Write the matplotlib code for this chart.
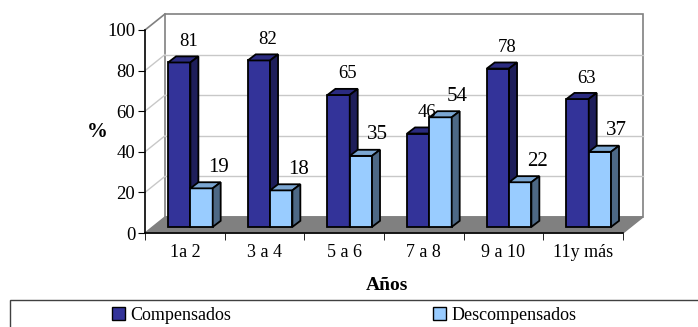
import matplotlib
matplotlib.use('Agg')
from matplotlib import pyplot as plt
from matplotlib.patches import Polygon, Rectangle
from matplotlib.lines import Line2D

# Datos
anios = ["1a 2", "3 a 4", "5 a 6", "7 a 8", "9 a 10", "11y más"]
compensados = [81, 82, 65, 46, 78, 63]
descompensados = [19, 18, 35, 54, 22, 37]
series_names = ["Compensados", "Descompensados"]

plt.rcParams['font.family'] = ['Liberation Serif', 'DejaVu Serif']

W, H = 698, 327
fig = plt.figure(figsize=(W / 100, H / 100), dpi=100)
# front plane of the 3d box: x 145..623 px, y 233..30 px
ax = fig.add_axes([145 / W, (H - 233) / H, 478 / W, 203 / H])
n = len(anios)
ax.set_xlim(0, n)
ax.set_ylim(0, 100)

# depth of the floor/walls and of the bars, in data units
DX, DY = 0.251, 7.9
bdx, bdy = 0.1, 3.0
bw = 0.28
x0 = [i + 0.19 for i in range(n)]

grid_c = '#c8c8c8'
wall_c = '#808080'

# floor
ax.add_patch(Polygon([(0, 0), (n, 0), (n + DX, DY), (DX, DY)], closed=True,
                     facecolor='#808080', edgecolor='#808080', zorder=1, clip_on=False))
# back wall
ax.add_patch(Rectangle((DX, DY), n, 100, facecolor='white', edgecolor=wall_c,
                       lw=1.2, zorder=0.5, clip_on=False))
ax.add_line(Line2D([0, DX], [100, 100 + DY], color=wall_c, lw=1.2, zorder=0.6, clip_on=False))
for v in [20, 40, 60, 80]:
    ax.add_line(Line2D([DX, n + DX], [v + DY, v + DY], color=grid_c, lw=1, zorder=0.6, clip_on=False))
    ax.add_line(Line2D([0, DX], [v, v + DY], color=grid_c, lw=1, zorder=0.6, clip_on=False))


def bars3d(xs, vals, front, top, side, z):
    rects = ax.bar([x + bdx for x in xs], vals, width=bw, bottom=bdy, align='edge',
                   color=front, edgecolor='black', lw=1.3, zorder=z)
    for r in rects:
        l, b = r.get_x(), r.get_y()
        rr, t = l + r.get_width(), b + r.get_height()
        ax.add_patch(Polygon([(l, t), (l + bdx, t + bdy), (rr + bdx, t + bdy), (rr, t)],
                             closed=True, facecolor=top, edgecolor='black', lw=1.3, zorder=z))
        ax.add_patch(Polygon([(rr, b), (rr + bdx, b + bdy), (rr + bdx, t + bdy), (rr, t)],
                             closed=True, facecolor=side, edgecolor='black', lw=1.3, zorder=z))
    return rects


dark = bars3d(x0, compensados, '#333399', '#2b2b80', '#1e1e5a', 3)
light = bars3d([x + bw for x in x0], descompensados, '#99ccff', '#7ba6d2', '#4d6885', 4)

for r, v in zip(dark, compensados):
    ax.annotate(str(v), (r.get_x() + bw / 2, r.get_y() + r.get_height()),
                xytext=(9, 21), textcoords='offset pixels', ha='center', va='center',
                fontsize=13.5, zorder=6)
for r, v in zip(light, descompensados):
    ax.annotate(str(v), (r.get_x() + bw / 2, r.get_y() + r.get_height()),
                xytext=(17, 21), textcoords='offset pixels', ha='center', va='center',
                fontsize=15, zorder=6)

# axes
for s in ['top', 'right']:
    ax.spines[s].set_visible(False)
ax.spines['left'].set_color('black')
ax.spines['bottom'].set_color('black')
ax.spines['left'].set_linewidth(1.2)
ax.spines['bottom'].set_linewidth(1.2)
ax.spines['left'].set_zorder(2)
ax.spines['bottom'].set_zorder(2)
ax.set_yticks([0, 20, 40, 60, 80, 100])
ax.tick_params(axis='y', direction='out', length=5, labelsize=13.5, pad=2)
ax.set_xticks([i + 0.5 for i in range(n)])
ax.set_xticklabels(anios)
ax.set_xticks(range(n + 1), minor=True)
ax.tick_params(axis='x', which='major', length=0, labelsize=13, pad=8)
ax.tick_params(axis='x', which='minor', direction='out', length=5)
ax.patch.set_visible(False)

fig.text(97 / W, 1 - 132 / H, '%', fontsize=15, fontweight='bold', ha='center', va='center')
fig.text(387 / W, 1 - 286 / H, 'Años', fontsize=14, fontweight='bold', ha='center', va='center')

# legend box
fig.add_artist(Rectangle((10 / W, -0.2), 1, (H - 300) / H + 0.2, transform=fig.transFigure,
                         fill=False, edgecolor='#404040', lw=1))
handles = [Rectangle((0, 0), 1, 1, facecolor='#333399', edgecolor='black'),
           Rectangle((0, 0), 1, 1, facecolor='#99ccff', edgecolor='black')]
fig.legend(handles, series_names, ncol=2, frameon=False, loc='center left',
           bbox_to_anchor=(103 / W, 1 - 315 / H), fontsize=13, handlelength=0.7,
           handleheight=0.7, handletextpad=0.3, columnspacing=11.2, borderpad=0)

fig.savefig('out.png', dpi=100)
